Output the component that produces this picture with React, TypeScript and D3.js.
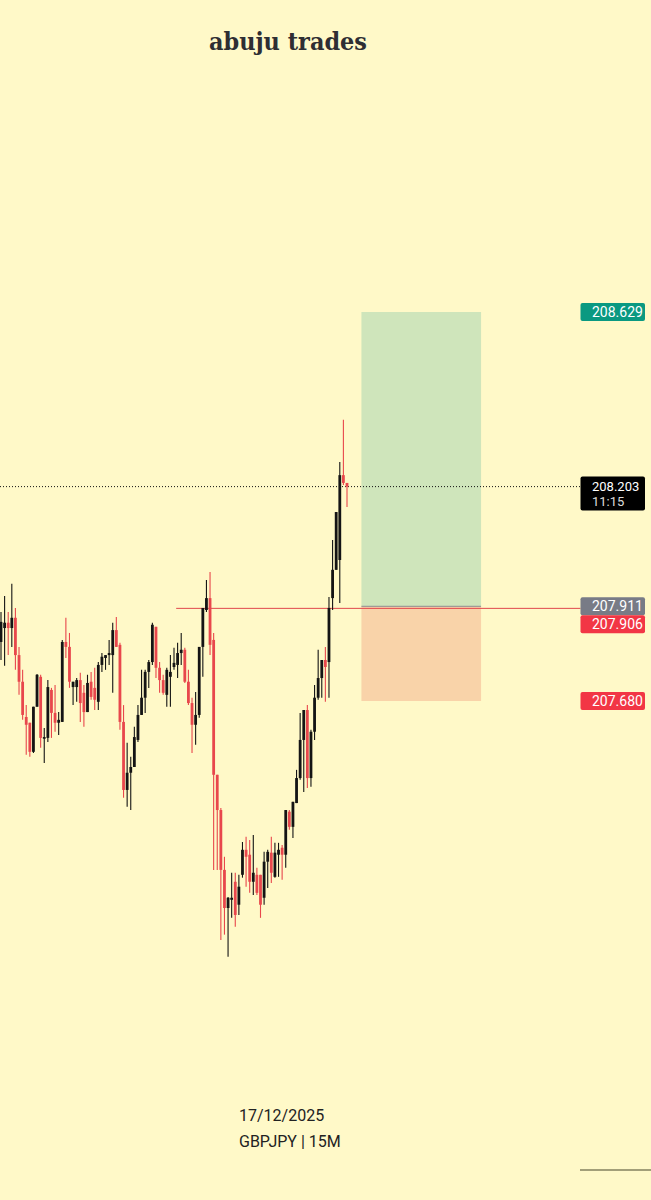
import React from "react";
import * as d3 from "d3";

// GBPJPY 15M candles (prices)
const opens = [207.824,207.858,207.871,207.858,207.883,207.792,207.727,207.641,207.627,207.556,207.666,207.739,207.588,207.590,207.707,207.651,207.627,207.629,207.824,207.812,207.714,207.714,207.731,207.700,207.653,207.727,207.712,207.678,207.768,207.785,207.792,207.792,207.853,207.817,207.629,207.463,207.505,207.519,207.585,207.646,207.688,207.751,207.775,207.861,207.761,207.731,207.695,207.739,207.763,207.768,207.797,207.805,207.727,207.675,207.622,207.646,207.812,207.902,207.931,207.829,207.500,207.414,207.268,207.175,207.195,207.239,207.183,207.256,207.317,207.305,207.239,207.256,207.256,207.200,207.288,207.310,207.251,207.305,207.322,207.305,207.410,207.373,207.431,207.492,207.585,207.658,207.492,207.605,207.688,207.736,207.780,207.775,207.931,208.000,208.024,208.231,208.212];
const highs = [207.897,207.936,207.897,207.966,207.907,207.812,207.756,207.670,207.627,207.666,207.746,207.744,207.614,207.731,207.712,207.719,207.653,207.829,207.883,207.846,207.727,207.736,207.749,207.719,207.744,207.751,207.761,207.775,207.797,207.792,207.829,207.871,207.885,207.822,207.670,207.578,207.544,207.617,207.670,207.756,207.756,207.780,207.871,207.861,207.775,207.744,207.761,207.792,207.810,207.822,207.846,207.810,207.756,207.688,207.702,207.812,207.907,207.975,207.995,207.846,207.500,207.419,207.300,207.202,207.261,207.261,207.256,207.336,207.349,207.341,207.353,207.273,207.256,207.312,207.317,207.349,207.334,207.334,207.329,207.414,207.414,207.434,207.512,207.651,207.658,207.670,207.610,207.719,207.805,207.780,207.812,207.934,208.073,208.141,208.263,208.366,208.212];
const lows = [207.780,207.766,207.792,207.812,207.756,207.695,207.634,207.549,207.544,207.553,207.666,207.566,207.529,207.580,207.590,207.605,207.597,207.629,207.785,207.712,207.670,207.678,207.629,207.617,207.653,207.683,207.658,207.658,207.751,207.756,207.768,207.700,207.812,207.610,207.444,207.422,207.414,207.519,207.580,207.646,207.651,207.712,207.768,207.736,207.700,207.695,207.666,207.666,207.756,207.736,207.768,207.724,207.670,207.553,207.573,207.639,207.739,207.897,207.792,207.268,207.268,207.097,207.110,207.056,207.151,207.129,207.158,207.249,207.227,207.212,207.207,207.207,207.151,207.183,207.224,207.236,207.249,207.251,207.244,207.273,207.366,207.346,207.431,207.488,207.458,207.468,207.471,207.585,207.683,207.688,207.678,207.688,207.902,208.000,207.919,208.207,208.153];
const closes = [207.873,207.871,207.858,207.883,207.792,207.727,207.646,207.622,207.556,207.666,207.744,207.590,207.592,207.714,207.651,207.627,207.634,207.824,207.812,207.727,207.727,207.731,207.675,207.653,207.724,207.690,207.683,207.768,207.788,207.792,207.797,207.853,207.812,207.629,207.463,207.505,207.519,207.592,207.646,207.688,207.751,207.775,207.866,207.761,207.731,207.700,207.756,207.751,207.773,207.797,207.805,207.727,207.675,207.622,207.646,207.812,207.907,207.931,207.817,207.500,207.414,207.268,207.175,207.200,207.200,207.158,207.227,207.317,207.300,207.239,207.261,207.212,207.183,207.288,207.312,207.261,207.310,207.317,207.305,207.414,207.373,207.434,207.492,207.585,207.658,207.492,207.605,207.688,207.736,207.780,207.763,207.907,208.000,208.141,208.231,208.212,208.203];

// Long position tool & price lines
const takeProfit = 208.629;
const entryPrice = 207.911;
const stopLoss = 207.680;
const lastPrice = 208.203;
const redLinePrice = 207.906;
const positionStartBar = 100;
const positionEndBar = 133.2;
const redLineStartBar = 48.6;

const title = "abuju trades";
const dateLabel = "17/12/2025";
const symbolLabel = "GBPJPY | 15M";
const countdown = "11:15";

const W = 651;
const H = 1200;
const BG = "#fff9c8";
const UP = "#141414";
const DOWN = "#e8474c";

export default function App() {
  const n = closes.length;
  const x = d3.scaleLinear().domain([0, n - 1]).range([1, 347]);
  const y = d3.scaleLinear().domain([stopLoss, takeProfit]).range([701, 312]);
  const axisX = 580.5;
  const labelW = 64.5;
  const bodyW = 2.8;
  const LH = 18;

  const label = (price: number, color: string, key: string, shift = 0) => (
    <g key={key}>
      <rect x={axisX} y={y(price) - LH / 2 + shift} width={labelW} height={LH} rx={2} fill={color} />
      <text x={592} y={y(price) + 5 + shift} fill="#fff" fontSize={14} fontFamily="Roboto">
        {price.toFixed(3)}
      </text>
    </g>
  );

  return (
    <svg
      width={W}
      height={H}
      style={{ position: "absolute", left: 0, top: 0, display: "block" }}
    >
      <rect x={0} y={0} width={W} height={H} fill={BG} />
      <text
        x={288}
        y={50}
        textAnchor="middle"
        fontFamily="DejaVu Serif"
        fontWeight="bold"
        fontSize={25}
        fill="#2e2e33"
        textLength={158}
        lengthAdjust="spacingAndGlyphs"
      >
        {title}
      </text>

      {/* position boxes */}
      <rect
        x={x(positionStartBar)}
        y={y(takeProfit)}
        width={x(positionEndBar) - x(positionStartBar)}
        height={y(entryPrice) - y(takeProfit)}
        fill="#cfe5bb"
      />
      <rect
        x={x(positionStartBar)}
        y={y(entryPrice)}
        width={x(positionEndBar) - x(positionStartBar)}
        height={y(stopLoss) - y(entryPrice)}
        fill="#f9d3a9"
      />
      <line
        x1={x(positionStartBar)}
        x2={x(positionEndBar)}
        y1={y(entryPrice)}
        y2={y(entryPrice)}
        stroke="#8a8b90"
        strokeWidth={1}
      />

      {/* current price dotted line */}
      <line x1={0} x2={axisX} y1={y(lastPrice)} y2={y(lastPrice)} stroke="#111" strokeWidth={1} strokeDasharray="1 2" />

      {/* red horizontal line */}
      <line x1={x(redLineStartBar)} x2={axisX} y1={y(redLinePrice)} y2={y(redLinePrice)} stroke="#e0474c" strokeWidth={1} />

      {/* candles */}
      {closes.map((c, i) => {
        const o = opens[i];
        const up = c >= o;
        const col = up ? UP : DOWN;
        const cx = x(i);
        const top = y(Math.max(o, c));
        const bot = y(Math.min(o, c));
        return (
          <g key={i}>
            <line x1={cx} x2={cx} y1={y(highs[i])} y2={y(lows[i])} stroke={col} strokeWidth={1.1} />
            <rect x={cx - bodyW / 2} y={top} width={bodyW} height={Math.max(1.2, bot - top)} fill={col} />
          </g>
        );
      })}

      {/* price labels */}
      {label(takeProfit, "#0a9981", "tp")}
      <g>
        <rect x={axisX} y={y(lastPrice) - 10} width={labelW} height={34} rx={2} fill="#000" />
        <text x={592} y={y(lastPrice) + 4.8} fill="#fff" fontSize={13} fontFamily="Roboto">
          {lastPrice.toFixed(3)}
        </text>
        <text x={592} y={y(lastPrice) + 19.6} fill="#ddd" fontSize={13} fontFamily="Roboto">
          {countdown}
        </text>
      </g>
      {label(entryPrice, "#787b86", "entry")}
      {label(redLinePrice, "#f23645", "red", LH - (y(redLinePrice) - y(entryPrice)))}
      {label(stopLoss, "#f23645", "sl")}

      {/* bottom texts */}
      <text x={239} y={1121} fontFamily="Roboto" fontSize={16} fill="#222">
        {dateLabel}
      </text>
      <text x={239} y={1147} fontFamily="Roboto" fontSize={16} fill="#222">
        {symbolLabel}
      </text>
      <line x1={580} x2={W} y1={1170} y2={1170} stroke="#a29f78" strokeWidth={2} />
    </svg>
  );
}
